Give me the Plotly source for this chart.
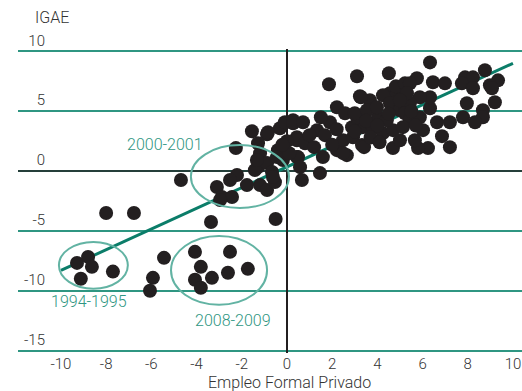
import plotly.graph_objects as go

# ---- data ----
empleo = [
    -8.0, -6.77, -3.36, -0.5,
    -9.29, -8.8, -8.63, -9.12, -7.7,
    -5.44, -5.93, -6.06,
    -4.07, -2.52, -3.81, -1.73, -3.32, -2.61, -4.07, -3.81,
    -4.69,
    -2.26, -1.55, -0.88, -1.28, -1.19, -0.4, -0.31, -0.09, 0.27, -1.28, -0.88, -0.66, -0.44, -0.18,
    -1.42, -2.21, -2.52, -1.77, -3.1, -2.88, -2.43, -2.96, -1.19, -0.88, -0.53, -0.62, -1.33, 0.44,
    0.44, -0.84,
    0.27, 0.71, 1.33, 1.68, 1.9, 0.44, 0.8, 0.49, 0.58, 0.66, 1.46, 1.59, 2.21, 2.65, 2.48, 2.92,
    3.32, 3.36, 3.8, 4.25, 4.69, 4.69, 5.0, 2.88, 3.1, 4.03, 4.42, 4.56, 4.87,
    1.86, 3.1, 4.51, 3.23, 3.67, 4.25, 4.82, 5.22, 2.21, 2.57, 3.0, 3.54, 3.98, 4.56, 5.0,
    2.48, 3.41, 3.27,
    6.33, 5.75, 6.46, 6.99, 5.44, 7.88, 8.23, 8.76, 9.34, 8.98, 7.74, 8.23, 9.07, 9.2, 7.96, 7.79,
    8.67, 8.67, 8.32, 7.21, 6.64, 6.02, 6.86, 7.21, 6.24, 5.8, 5.66, 6.33, 6.33, 5.88, 5.44, 5.31,
    5.0, 5.22, 5.44, 5.13, 5.88,
    3.5, 4.0, 4.5, 5.5, 5.7, 3.0, 2.0, 1.2, 1.0, 0.0, 0.1, -0.2, 2.2, 3.7, 4.1, 1.5,
]
igae = [
    -3.5, -3.5, -4.25, -4.0,
    -7.67, -7.17, -8.0, -9.0, -8.4,
    -7.25, -8.92, -10.0,
    -6.75, -6.75, -8.0, -8.17, -8.92, -8.5, -9.08, -9.75,
    -0.75,
    1.92, 3.33, 3.08, 2.33, 1.5, 1.75, 3.58, 4.08, 4.25, 0.33, 0.67, -0.08, 1.17, 0.92,
    0.08, -0.33, -0.75, -1.17, -1.33, -2.17, -2.17, -2.42, -1.17, -1.58, -0.92, -0.5, 0.92, 2.83,
    1.17, 3.25,
    4.0, 4.08, 3.42, 3.0, 4.08, 2.58, 2.33, 1.17, 0.33, -0.75, -0.17, 1.17, 1.75, 1.33, 2.58, 2.83,
    2.17, 3.67, 3.67, 3.17, 3.42, 1.92, 2.58, 3.67, 4.5, 4.5, 4.25, 6.5, 6.5,
    7.25, 7.92, 8.17, 6.25, 5.92, 6.33, 7.08, 7.33, 5.33, 4.83, 4.83, 5.08, 5.33, 5.67, 5.08,
    1.5, 2.0, 6.17,
    9.08, 7.75, 7.42, 7.33, 7.33, 7.83, 7.83, 8.42, 7.58, 7.17, 7.33, 6.92, 6.92, 5.75, 5.67, 4.5,
    5.08, 4.5, 4.08, 4.08, 4.08, 3.42, 2.92, 2.0, 1.92, 1.92, 2.58, 5.25, 6.17, 6.17, 5.67, 6.5,
    5.92, 4.83, 4.25, 3.67, 4.5,
    4.2, 3.8, 4.8, 5.0, 3.8, 3.3, 2.2, 2.0, 3.0, 2.5, 1.5, 2.2, 3.5, 2.8, 2.4, 4.5,
]
fit_x = [-10, 10]
fit_y = [-8.3, 9.0]

x_ticks = [-10, -8, -6, -4, -2, 0, 2, 4, 6, 8, 10]
y_ticks = [10, 5, 0, -5, -10, -15]

period_labels = ["2000-2001", "1994-1995", "2008-2009"]
# ellipse bounds (x0, x1, y0, y1) in data units
period_ellipses = [(-4.25, 0.09, -3.08, 2.17), (-10.09, -7.04, -9.83, -5.92), (-5.13, -0.88, -11.17, -5.42)]
period_label_pos = [(-5.4, 2.25), (-8.76, -10.9), (-2.39, -12.5)]

TEAL = "#2f9682"
TEAL_LIGHT = "#62b3a3"
INK = "#231f20"
FONT = "Roboto"
W, H = 522, 391
ML, MT, MB = 18, 49, 38
PW, PH = W - ML, H - MT - MB

fig = go.Figure()
fig.add_trace(go.Scatter(x=fit_x, y=fit_y, mode="lines",
                         line=dict(color="#0b7d69", width=3), hoverinfo="skip"))
fig.add_trace(go.Scatter(x=empleo, y=igae, mode="markers",
                         marker=dict(color=INK, size=14, line=dict(width=0))))

for (x0, x1, y0, y1) in period_ellipses:
    fig.add_shape(type="circle", xref="x", yref="y", x0=x0, x1=x1, y0=y0, y1=y1,
                  line=dict(color=TEAL_LIGHT, width=2))
for lab, (lx, ly) in zip(period_labels, period_label_pos):
    fig.add_annotation(x=lx, y=ly, xref="x", yref="y", text=lab, showarrow=False,
                       font=dict(family=FONT, size=16, color=TEAL, weight=300))

fig.add_annotation(x=(33 - ML) / PW, y=1 + (MT - 17) / PH, xref="paper", yref="paper",
                   text="IGAE", showarrow=False, yanchor="middle",
                   font=dict(family=FONT, size=16, color="#333333", weight=300))
fig.add_annotation(x=0.1, y=-(382 - (H - MB)) / PH, xref="x", yref="paper",
                   text="Empleo Formal Privado", showarrow=False, yanchor="middle",
                   font=dict(family=FONT, size=16, color="#333333", weight=300))

fig.update_layout(
    width=W, height=H,
    margin=dict(l=ML, r=0, t=MT, b=MB, pad=0),
    paper_bgcolor="white", plot_bgcolor="white",
    showlegend=False,
    font=dict(family=FONT, size=15, color="#333333", weight=300),
    xaxis=dict(range=[-11.9, 10.4], tickvals=x_ticks, ticktext=[str(v) for v in x_ticks],
               showgrid=False, zeroline=True, zerolinecolor=INK, zerolinewidth=1.5,
               showline=False, ticks="", automargin=False),
    yaxis=dict(range=[-15.2, 10.2], tickvals=y_ticks, ticktext=[str(v) for v in y_ticks],
               anchor="free", position=(45 - ML) / PW, side="left",
               showgrid=True, gridcolor=TEAL, gridwidth=1.5,
               zeroline=True, zerolinecolor="#253f3a", zerolinewidth=1.5,
               showline=False, ticks="", ticklabelshift=-11, automargin=False),
)

fig.write_html("out.html", config={"displayModeBar": False},
               post_script="document.body.style.margin='0px';")
